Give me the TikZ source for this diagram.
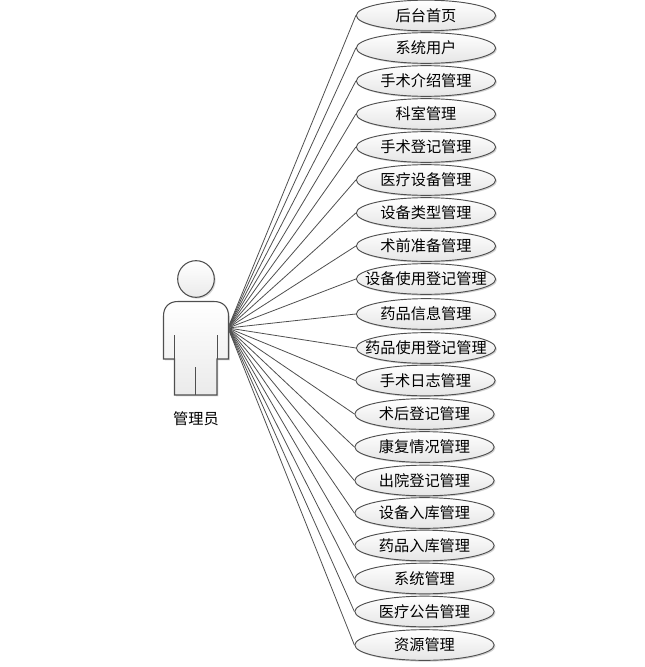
\documentclass[tikz,border=0pt]{standalone}
\usepackage{fontspec}
\newfontfamily\cjk{Noto Sans CJK SC}
\usetikzlibrary{shadows,shapes.geometric}
\definecolor{edge}{HTML}{4F4F4F}
\tikzset{
 usecase/.style={ellipse,draw=edge,line width=.7pt,minimum width=104.5pt,minimum height=23pt,inner xsep=-20pt,inner ysep=0pt,
   top color=white,bottom color=black!10,drop shadow={shadow xshift=1pt,shadow yshift=-1pt,opacity=.35},font=\cjk\fontsize{11.4}{12}\selectfont},
 link/.style={draw=edge,line width=.6pt},
 body/.style={draw=edge,line width=.8pt,top color=white,bottom color=black!8,drop shadow={shadow xshift=1pt,shadow yshift=-1pt,opacity=.3}}}
\begin{document}
\begin{tikzpicture}[x=0.75pt,y=-0.75pt]
\useasboundingbox (0,0) rectangle (644,667);
\coordinate (hub) at (228,328);
\foreach \n/\x/\y/\t in {a/426/15.5/后台首页,b/426/48/系统用户,c/426/81/手术介绍管理,d/426/114/科室管理,e/426/147/手术登记管理,f/426/180/医疗设备管理,g/426/213/设备类型管理,h/426/246/术前准备管理,i/426/279/设备使用登记管理,j/426/314/药品信息管理,k/426/348/药品使用登记管理,l/425.5/380.5/手术日志管理,m/424.5/414/术后登记管理,n/424.5/447/康复情况管理,o/424.5/480.5/出院登记管理,p/424.5/513/设备入库管理,q/424.5/545.5/药品入库管理,r/424.5/578.5/系统管理,s/424.5/611.5/医疗公告管理,t/424.5/645/资源管理}{
 \node[usecase] (\n) at (\x,\y) {\t};
 \draw[link] (hub) -- (\n.west);
}
\node[body,circle,minimum size=27.5pt,inner sep=0pt] (head) at (196,279) {};
\draw[body] (178,301.5) -- (214,301.5) .. controls (223,301.5) and (228.5,307) .. (228.5,316) -- (228.5,359) -- (217,359) -- (217,395) -- (174.5,395) -- (174.5,359) -- (163.5,359) -- (163.5,316) .. controls (163.5,307) and (169,301.5) .. (178,301.5) -- cycle;
\draw[edge,line width=.7pt] (174.5,335) -- (174.5,359) (217,335) -- (217,359) (195.7,367) -- (195.7,395);
\node[font=\cjk\fontsize{11.4}{12}\selectfont] (actor) at (196,419) {管理员};
\end{tikzpicture}
\end{document}
